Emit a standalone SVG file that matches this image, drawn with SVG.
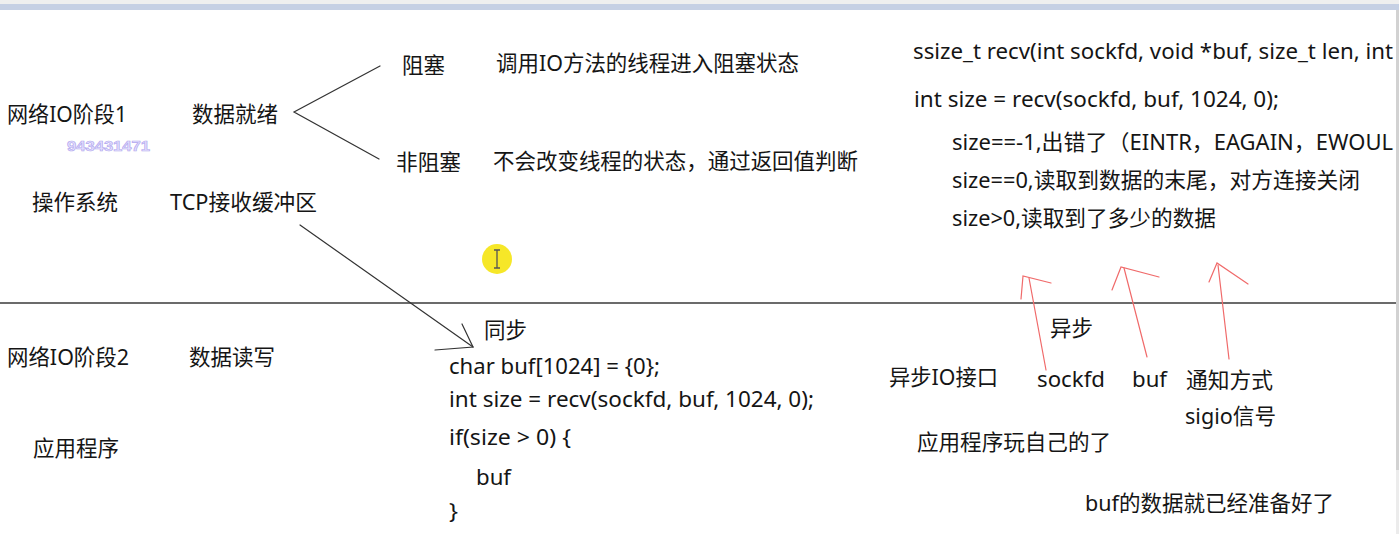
<svg xmlns="http://www.w3.org/2000/svg" width="1399" height="534" viewBox="0 0 1399 534">
<style>
text{font-family:"Noto Sans","Noto Sans CJK SC",sans-serif;font-size:21.5px;fill:#151515;}
.blk{stroke:#333;stroke-width:1.2;fill:none;stroke-linecap:round;}
.red{stroke:#f06a6a;stroke-width:1.2;fill:none;stroke-linecap:round;}
.wm{font-family:"Liberation Sans",sans-serif;font-size:15px;font-weight:bold;fill:#e4e0ff;stroke:#b4aaee;stroke-width:0.7;}
</style>
<rect x="0" y="0" width="1399" height="534" fill="#ffffff"/>
<g id="frame">
<rect x="0" y="0" width="1399" height="4" fill="#efefef"/>
<rect x="0" y="4" width="1399" height="6" fill="#c6d0e4"/>
<rect x="1396" y="10" width="3" height="460" fill="#d2d2d2"/>
<rect x="1396" y="470" width="3" height="64" fill="#ececec"/>
</g>
<g id="divider"><line x1="0" y1="303" x2="1396" y2="303" stroke="#3a3a3a" stroke-width="1.5"/></g>
<g id="connectors">
<polyline class="blk" points="380,66 294,112 379,159"/>
<line class="blk" x1="300" y1="225" x2="473" y2="347"/>
<polyline class="blk" points="462,324 473,347 435,350"/>
<line class="red" x1="1046" y1="370" x2="1029" y2="278"/>
<polyline class="red" points="1021,299 1023,276 1051,283"/>
<line class="red" x1="1147" y1="357" x2="1124" y2="268"/>
<polyline class="red" points="1112,290 1121,267 1159,277"/>
<line class="red" x1="1229" y1="359" x2="1218" y2="265"/>
<polyline class="red" points="1209,282 1217,263 1248,284"/>
</g>
<g id="n-stage1"><text x="7" y="122" textLength="120" lengthAdjust="spacingAndGlyphs">网络IO阶段1</text></g>
<g id="n-watermark"><text class="wm" x="67" y="151" textLength="83" lengthAdjust="spacingAndGlyphs">943431471</text></g>
<g id="n-ready"><text x="192" y="121.5" textLength="86" lengthAdjust="spacingAndGlyphs">数据就绪</text></g>
<g id="n-block"><text x="402" y="72.5" textLength="43" lengthAdjust="spacingAndGlyphs">阻塞</text></g>
<g id="n-nonblock"><text x="396" y="169.5" textLength="65" lengthAdjust="spacingAndGlyphs">非阻塞</text></g>
<g id="n-block-desc"><text x="496" y="70.5" textLength="303" lengthAdjust="spacingAndGlyphs">调用IO方法的线程进入阻塞状态</text></g>
<g id="n-nonblock-desc"><text x="493" y="169" textLength="365" lengthAdjust="spacingAndGlyphs">不会改变线程的状态，通过返回值判断</text></g>
<g id="n-os"><text x="32" y="209.5" textLength="86" lengthAdjust="spacingAndGlyphs">操作系统</text></g>
<g id="n-tcpbuf"><text x="170" y="210" textLength="147" lengthAdjust="spacingAndGlyphs">TCP接收缓冲区</text></g>
<g id="n-recv-sig">
<text x="913" y="59" textLength="480" lengthAdjust="spacingAndGlyphs">ssize_t recv(int sockfd, void *buf, size_t len, int</text>
<text x="914" y="107" textLength="365" lengthAdjust="spacingAndGlyphs">int size = recv(sockfd, buf, 1024, 0);</text>
<text x="952" y="150" textLength="441" lengthAdjust="spacingAndGlyphs">size==-1,出错了（EINTR，EAGAIN，EWOUL</text>
<text x="952" y="188" textLength="408" lengthAdjust="spacingAndGlyphs">size==0,读取到数据的末尾，对方连接关闭</text>
<text x="952" y="225.5" textLength="264" lengthAdjust="spacingAndGlyphs">size&gt;0,读取到了多少的数据</text>
</g>
<g id="n-cursor">
<circle cx="497" cy="259" r="15" fill="#f6e61c" opacity="0.95"/>
<path d="M494,250 H500 M497,250 V268 M494,268 H500" stroke="#555" stroke-width="1.3" fill="none"/>
</g>
<g id="n-sync"><text x="484" y="338" textLength="43" lengthAdjust="spacingAndGlyphs">同步</text></g>
<g id="n-stage2"><text x="7" y="365" textLength="122" lengthAdjust="spacingAndGlyphs">网络IO阶段2</text></g>
<g id="n-rw"><text x="189" y="364.5" textLength="86" lengthAdjust="spacingAndGlyphs">数据读写</text></g>
<g id="n-app"><text x="33" y="455.5" textLength="86" lengthAdjust="spacingAndGlyphs">应用程序</text></g>
<g id="n-sync-code">
<text x="449" y="374" textLength="211" lengthAdjust="spacingAndGlyphs">char buf[1024] = {0};</text>
<text x="449" y="407" textLength="365" lengthAdjust="spacingAndGlyphs">int size = recv(sockfd, buf, 1024, 0);</text>
<text x="449" y="444.5" textLength="122" lengthAdjust="spacingAndGlyphs">if(size &gt; 0) {</text>
<text x="476" y="485" textLength="35" lengthAdjust="spacingAndGlyphs">buf</text>
<text x="449" y="519" textLength="9" lengthAdjust="spacingAndGlyphs">}</text>
</g>
<g id="n-async"><text x="1050" y="335.5" textLength="43" lengthAdjust="spacingAndGlyphs">异步</text></g>
<g id="n-async-api"><text x="889" y="384.5" textLength="109" lengthAdjust="spacingAndGlyphs">异步IO接口</text></g>
<g id="n-sockfd"><text x="1037" y="387" textLength="68" lengthAdjust="spacingAndGlyphs">sockfd</text></g>
<g id="n-buf"><text x="1132" y="387" textLength="35" lengthAdjust="spacingAndGlyphs">buf</text></g>
<g id="n-notify"><text x="1186" y="387.5" textLength="87" lengthAdjust="spacingAndGlyphs">通知方式</text></g>
<g id="n-sigio"><text x="1185" y="424" textLength="91" lengthAdjust="spacingAndGlyphs">sigio信号</text></g>
<g id="n-app-free"><text x="917" y="450" textLength="194" lengthAdjust="spacingAndGlyphs">应用程序玩自己的了</text></g>
<g id="n-buf-ready"><text x="1085" y="510.5" textLength="249" lengthAdjust="spacingAndGlyphs">buf的数据就已经准备好了</text></g>
</svg>
